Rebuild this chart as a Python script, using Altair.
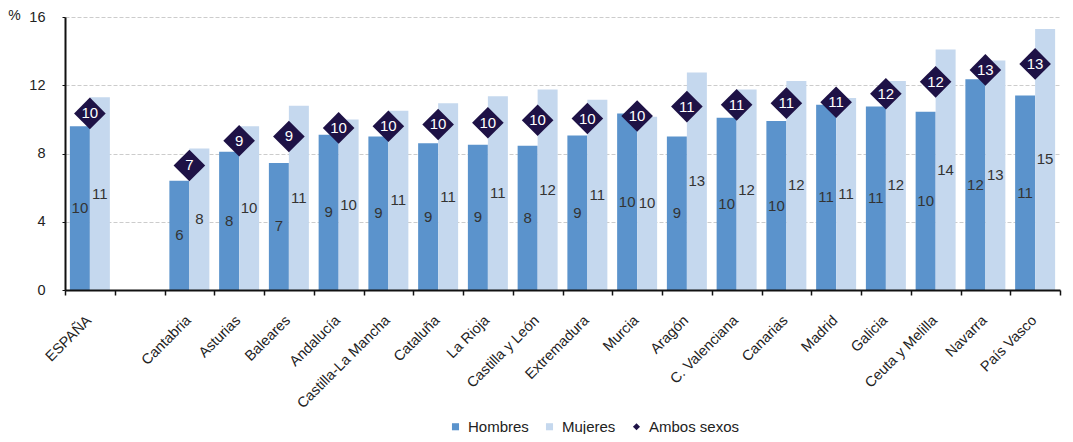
import altair as alt
import pandas as pd

FONT = "Liberation Sans, Arial, sans-serif"

# x categories (the empty one is the gap after ESPAÑA)
categories = ["ESPAÑA", "", "Cantabria", "Asturias", "Baleares", "Andalucía",
              "Castilla-La Mancha", "Cataluña", "La Rioja", "Castilla y León",
              "Extremadura", "Murcia", "Aragón", "C. Valenciana", "Canarias",
              "Madrid", "Galicia", "Ceuta y Melilla", "Navarra", "País Vasco"]

regions = [c for c in categories if c]

hombres = [9.6, 6.4, 8.1, 7.45, 9.1, 9.0, 8.6, 8.52, 8.45, 9.05, 10.35, 9.0,
           10.1, 9.9, 10.85, 10.75, 10.45, 12.35, 11.4]
mujeres = [11.3, 8.3, 9.6, 10.8, 10.0, 10.5, 10.95, 11.35, 11.75, 11.15, 10.15,
           12.75, 11.75, 12.25, 11.25, 12.25, 14.1, 13.45, 15.3]
ambos = [10.35, 7.3, 8.75, 9.0, 9.5, 9.6, 9.7, 9.8, 9.95, 10.05, 10.2, 10.75,
         10.85, 10.95, 11.0, 11.5, 12.2, 12.9, 13.25]

series = ["Hombres", "Mujeres", "Ambos sexos"]
colors = ["#5B93CC", "#C5D8EE", "#1E1246"]
shapes = ["square", "square", "diamond"]
y_ticks = [0, 4, 8, 12, 16]

rows = []
for r, h, m in zip(regions, hombres, mujeres):
    rows.append({"region": r, "serie": "Hombres", "valor": h})
    rows.append({"region": r, "serie": "Mujeres", "valor": m})
bars_df = pd.DataFrame(rows)
amb_df = pd.DataFrame({"region": regions, "serie": ["Ambos sexos"] * len(regions), "valor": ambos})

x_enc = alt.X(
    "region:N",
    sort=categories,
    scale=alt.Scale(domain=categories, paddingInner=0, paddingOuter=0),
    axis=alt.Axis(
        title=None, labelAngle=-45, labelAlign="right", labelBaseline="middle",
        labelPadding=23, labelOffset=-1, tickBand="extent", tickSize=5, tickColor="#111",
        tickWidth=1.5, domainColor="#111", domainWidth=2, labelFontSize=14.5,
        labelColor="#222", labelFont=FONT, grid=False, zindex=1, labelOverlap=False,
    ),
)
y_axis = alt.Axis(
    values=y_ticks, tickSize=3, tickColor="#111", labelPadding=17, grid=True,
    gridDash=[4, 2], gridColor="#cccccc", gridWidth=1, domainColor="#111", domainWidth=2,
    labelFontSize=14.5, labelColor="#222", labelFont=FONT,
    title="%", titleAngle=0, titleX=-51, titleY=-2, titleAlign="center",
    titleBaseline="middle", titleFontWeight="normal", titleFontSize=14,
    titleFont=FONT, titleColor="#222",
)
y_scale = alt.Scale(domain=[0, 16], nice=False)

legend = alt.Legend(
    title=None, orient="none", legendX=383, legendY=402, direction="horizontal",
    symbolSize=50, symbolStrokeWidth=0, labelFontSize=15, labelFont=FONT,
    labelColor="#222", columnPadding=13, labelOffset=5,
)
color_enc = alt.Color("serie:N", scale=alt.Scale(domain=series, range=colors), legend=legend)
shape_enc = alt.Shape("serie:N", scale=alt.Scale(domain=series, range=shapes), legend=legend)
xoff = alt.XOffset("serie:N", scale=alt.Scale(domain=["Hombres", "Mujeres"], paddingInner=0, paddingOuter=0.244))

bars = alt.Chart(bars_df).mark_bar().encode(
    x=x_enc,
    xOffset=xoff,
    y=alt.Y("valor:Q", scale=y_scale, axis=y_axis),
    color=color_enc,
)

bar_text = alt.Chart(bars_df).transform_calculate(
    mid="datum.valor / 2", lab="round(datum.valor)"
).mark_text(fontSize=15, color="#333", font=FONT).encode(
    x=x_enc, xOffset=xoff, y=alt.Y("mid:Q", scale=y_scale), text="lab:Q",
)

points = alt.Chart(amb_df).mark_point(filled=True, size=1000, opacity=1).encode(
    x=x_enc, y=alt.Y("valor:Q", scale=y_scale), color=color_enc, shape=shape_enc,
)

pt_text = alt.Chart(amb_df).transform_calculate(lab="round(datum.valor)").mark_text(
    fontSize=15, color="white", font=FONT
).encode(
    x=x_enc, y=alt.Y("valor:Q", scale=y_scale), text="lab:Q",
)

chart = alt.layer(bars, bar_text, points, pt_text).properties(
    width=995, height=273,
    padding={"left": 57, "top": 9, "right": 5, "bottom": 144},
    autosize=alt.AutoSizeParams(type="none"),
).configure_view(stroke=None)

chart.save("out.html", embed_options={"renderer": "svg", "actions": False})
